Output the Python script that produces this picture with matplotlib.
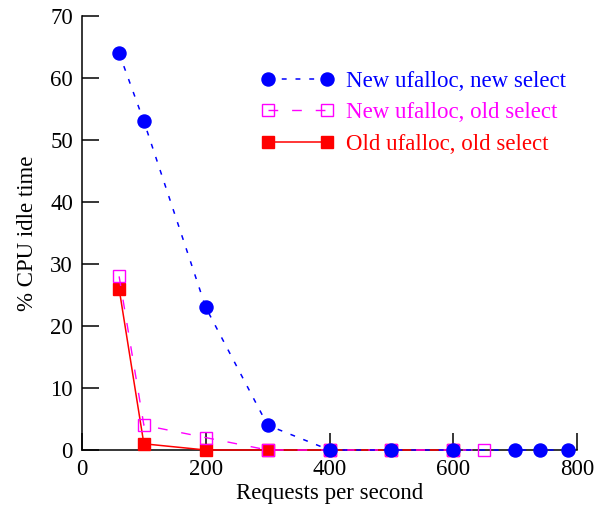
import numpy as np
import matplotlib
matplotlib.use("Agg")
from matplotlib import pyplot as plt

# datos
x_nuevo = [60, 100, 200, 300, 400, 500, 600, 700, 740, 785]
y_nuevo = [64, 53, 23, 4, 0, 0, 0, 0, 0, 0]

x_mixto = [60, 100, 200, 300, 400, 500, 600, 650]
y_mixto = [28, 4, 2, 0, 0, 0, 0, 0]

x_viejo = [60, 100, 200, 300, 400, 500, 600]
y_viejo = [26, 1, 0, 0, 0, 0, 0]

etiquetas = ["New ufalloc, new select", "New ufalloc, old select", "Old ufalloc, old select"]

plt.rcParams['font.family'] = ['Liberation Serif', 'DejaVu Serif']
plt.rcParams['font.size'] = 16.5

fig = plt.figure(figsize=(6.03, 5.05), dpi=100)
ax = fig.add_axes([82/603, 1-450/505, 495/603, 434/505])

# rojo abajo, azul arriba
l3, = ax.plot(x_viejo, y_viejo, color='#ff0000', lw=1.1, marker='s', ms=9.2,
              mec='#ff0000', mfc='#ff0000', clip_on=False, zorder=3)
l2, = ax.plot(x_mixto, y_mixto, color='#ff00ff', lw=1.0, dashes=(7, 10), marker='s', ms=9.0,
              mec='#ff00ff', mfc='none', mew=1.0, clip_on=False, zorder=4)
l1, = ax.plot(x_nuevo, y_nuevo, color='#0000ff', lw=1.1, dashes=(3.2, 5.8), marker='o', ms=9.4,
              mec='#0000ff', mfc='#0000ff', clip_on=False, zorder=5)

ax.set_xlim(0, 800)
ax.set_ylim(0, 70)
ax.set_xticks([0, 200, 400, 600, 800])
ax.set_yticks(np.arange(0, 71, 10))
ax.spines['top'].set_visible(False)
ax.spines['right'].set_visible(False)
for s in ['left', 'bottom']:
    ax.spines[s].set_linewidth(1.1)
ax.tick_params(direction='in', length=12.2, width=1.1, pad=6.5, labelsize=16.5)

# etiqueta x pegada al borde inferior, como en la original
ax.set_xlabel("Requests per second", fontsize=16.5)
ax.xaxis.set_label_coords(0.5, -0.0765)
ax.set_ylabel("% CPU idle time", fontsize=16.5)
ax.yaxis.set_label_coords(-0.089, 0.5)

leg = ax.legend([l1, l2, l3], etiquetas, loc='upper left', frameon=False,
                bbox_to_anchor=(261.6/603, 1-70.5/505), bbox_transform=fig.transFigure,
                borderpad=0, borderaxespad=0, numpoints=2, handlelength=3.17,
                handletextpad=0.5, labelspacing=0.47, labelcolor='linecolor', fontsize=16.5)

fig.savefig("out.png", dpi=100)
